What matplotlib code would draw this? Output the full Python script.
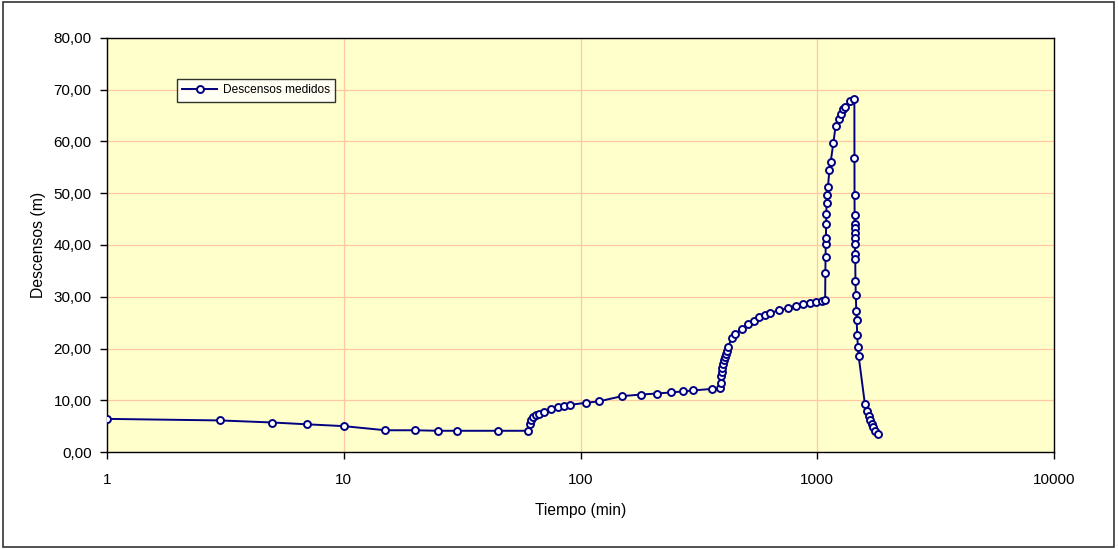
import matplotlib
matplotlib.use("Agg")
import matplotlib.pyplot as plt
from matplotlib.ticker import FixedLocator, FuncFormatter, NullLocator
from matplotlib.patches import Rectangle

plt.rcParams['font.family'] = ['Liberation Sans', 'DejaVu Sans']

# Data: time (min) and drawdown (m)
tiempo = [1, 3, 5, 7, 10, 15, 20, 25, 30, 45, 60,
          61, 62, 63, 65, 67, 70, 75, 80, 85, 90,
          105, 120, 150, 180, 210, 240, 270, 300, 360, 390,
          391, 393, 395, 397, 400, 403, 406, 410, 414, 420,
          435, 450, 480, 510, 540, 570, 600, 630, 690, 750,
          810, 870, 930, 990, 1050,
          1080, 1082, 1084, 1086, 1088, 1090, 1092, 1095, 1100, 1110,
          1125, 1140, 1170, 1195, 1230, 1255, 1285, 1315, 1370, 1435,
          1436, 1437, 1438, 1439, 1440, 1441, 1442, 1443, 1446, 1447,
          1450, 1455, 1462, 1467, 1475, 1485, 1495,
          1590, 1620, 1647, 1675, 1703, 1728, 1762, 1797]
descensos = [6.4, 6.1, 5.7, 5.35, 5.0, 4.2, 4.2, 4.1, 4.1, 4.1, 4.1,
             5.5, 6.2, 6.7, 7.1, 7.4, 7.7, 8.4, 8.6, 8.9, 9.1,
             9.5, 9.8, 10.8, 11.1, 11.3, 11.5, 11.7, 11.9, 12.2, 12.3,
             13.4, 14.7, 15.5, 16.2, 17.0, 17.8, 18.4, 18.9, 19.6, 20.3,
             22.0, 22.8, 23.8, 24.7, 25.4, 26.0, 26.5, 26.8, 27.4, 27.8,
             28.2, 28.6, 28.85, 29.0, 29.2,
             29.4, 34.5, 37.6, 40.1, 41.4, 44.0, 46.0, 48.2, 49.7, 51.3,
             54.4, 56.1, 59.8, 62.9, 64.3, 65.3, 66.2, 66.7, 67.8, 68.2,
             56.75, 49.7, 45.8, 44.1, 43.2, 42.3, 41.3, 40.2, 38.3, 37.3,
             33.1, 30.3, 27.3, 25.6, 22.6, 20.3, 18.6,
             9.2, 7.9, 7.0, 6.2, 5.4, 4.8, 4.1, 3.5]

x_ticks = [1, 10, 100, 1000, 10000]
x_tick_labels = ['1', '10', '100', '1000', '10000']
y_ticks = [0, 10, 20, 30, 40, 50, 60, 70, 80]

W, H = 1118, 549
fig = plt.figure(figsize=(W / 100, H / 100), dpi=100)
fig.patch.set_facecolor('white')

# outer chart border
fig.add_artist(Rectangle((3 / W, 2 / H), (W - 7) / W, (H - 4) / H,
                         transform=fig.transFigure, fill=False,
                         edgecolor='#333333', linewidth=1.2))

left, right, top, bottom = 107, 1054, 38, 452
ax = fig.add_axes([left / W, 1 - bottom / H, (right - left) / W, (bottom - top) / H])
ax.set_facecolor('#FFFFCC')

ax.set_xscale('log')
ax.set_xlim(1, 10000)
ax.set_ylim(0, 80)

ax.xaxis.set_major_locator(FixedLocator(x_ticks))
ax.xaxis.set_minor_locator(NullLocator())
ax.set_xticklabels(x_tick_labels)
ax.yaxis.set_major_locator(FixedLocator(y_ticks))
ax.yaxis.set_major_formatter(FuncFormatter(lambda v, p: f"{v:.2f}".replace('.', ',')))

ax.grid(True, which='major', color='#FFC8A0', linewidth=0.9)
ax.set_axisbelow(True)

for s in ax.spines.values():
    s.set_color('black')
    s.set_linewidth(1.0)

ax.tick_params(axis='both', which='major', direction='out', length=5,
               width=1, labelsize=11, colors='black', pad=6)
ax.tick_params(axis='x', pad=10)

ax.plot(tiempo, descensos, color='#000080', linewidth=1.4, marker='o',
        markersize=5, markerfacecolor='white', markeredgecolor='#000080',
        markeredgewidth=1.4, label='Descensos medidos', zorder=3)

ax.set_xlabel('Tiempo (min)', fontsize=11.2)
ax.set_ylabel('Descensos (m)', fontsize=11.3)
ax.xaxis.set_label_coords(0.5, (452 - 503) / 414)
ax.yaxis.set_label_coords((46 - 107) / 947, 0.5)

leg = ax.legend(loc='upper left', bbox_to_anchor=((177 - left) / (right - left), 1 - (79 - top) / (bottom - top)),
                frameon=True, fancybox=False, fontsize=8.6, borderpad=0.45,
                handlelength=2.9, handletextpad=0.5, borderaxespad=0)
leg.get_frame().set_edgecolor('black')
leg.get_frame().set_linewidth(1.0)
leg.get_frame().set_facecolor('white')

fig.savefig('out.png', dpi=100, facecolor='white')
